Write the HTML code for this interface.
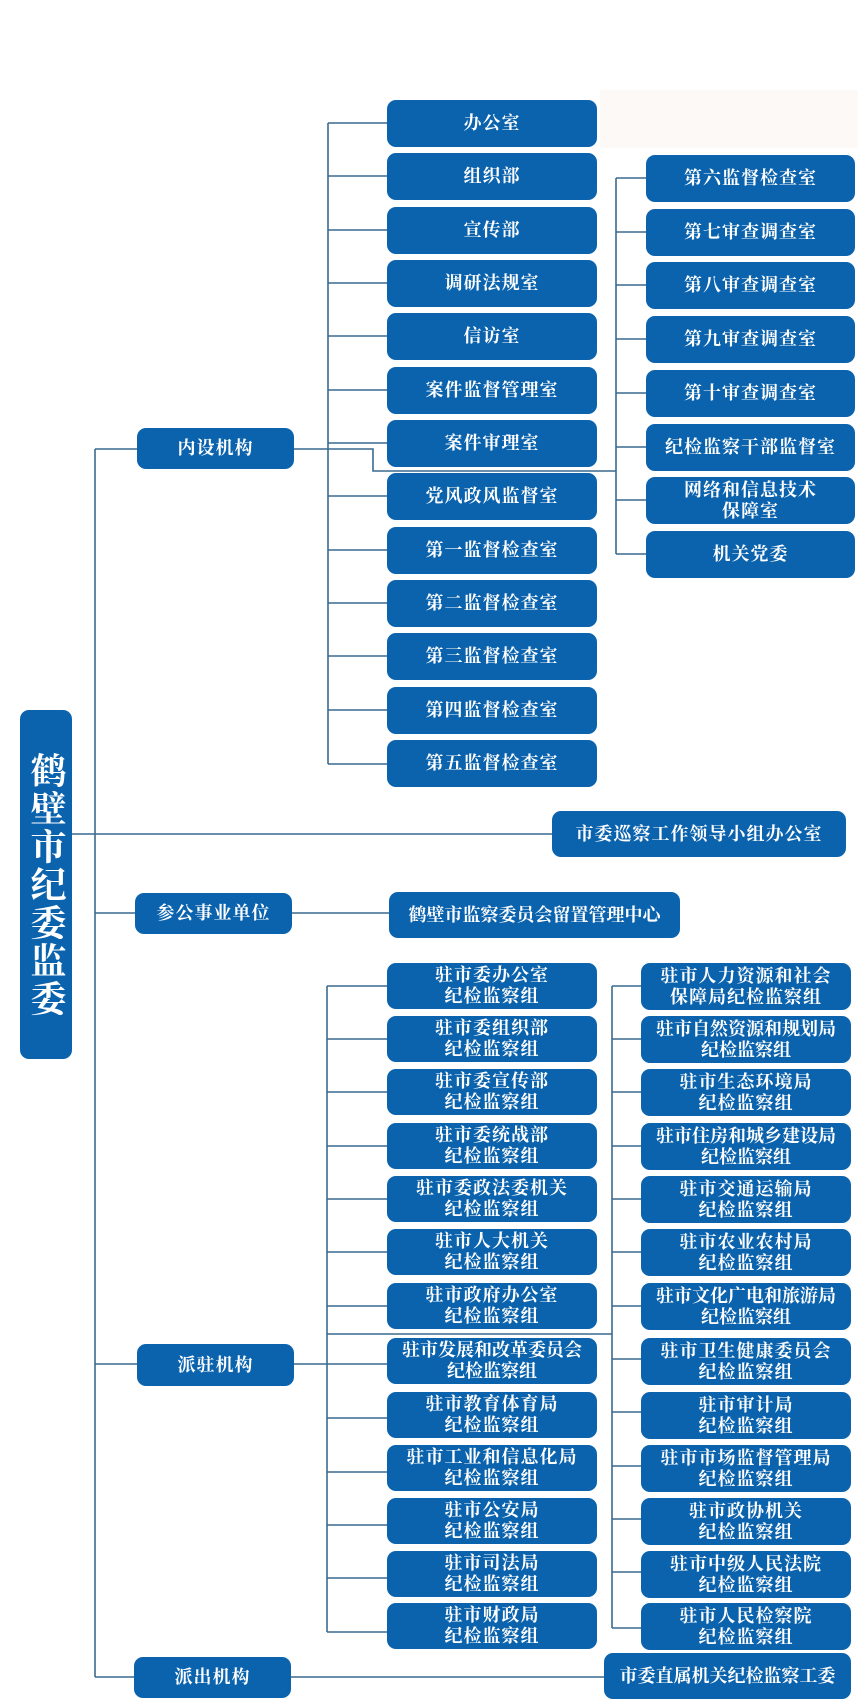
<!DOCTYPE html>
<html><head><meta charset="utf-8"><style>
body{margin:0;width:858px;height:1701px;background:#fff;position:relative;overflow:hidden}
.b{position:absolute;background:#0b63ae;color:#fff;border-radius:9px;display:flex;align-items:center;justify-content:center;text-align:center;font-family:"Liberation Serif","Noto Serif CJK SC",serif;font-weight:bold;font-size:18px;line-height:21px;letter-spacing:1px}
svg{position:absolute;left:0;top:0}
</style></head><body>
<div style="position:absolute;left:600px;top:90px;width:258px;height:58px;background:#fdf9f6"></div>
<svg width="858" height="1701"><g stroke="#3a6a8e" stroke-width="1.6" fill="none">
<path d="M95 449V1677"/>
<path d="M95 449H137M294 449H373V471H616"/>
<path d="M328 123V764"/>
<path d="M328 123H387M328 176H387M328 230H387M328 283H387M328 336H387M328 390H387M328 443H387M328 496H387M328 550H387M328 603H387M328 656H387M328 710H387M328 764H387"/>
<path d="M616 178V554"/>
<path d="M616 178H646M616 232H646M616 285H646M616 339H646M616 393H646M616 447H646M616 500H646M616 554H646"/>
<path d="M72 834H552"/>
<path d="M95 913H135M292 913H389"/>
<path d="M95 1364H137M294 1364H387"/>
<path d="M327 986V1632M327 1334H612"/>
<path d="M612 986V1628"/>
<path d="M327 986H387M327 1039H387M327 1092H387M327 1146H387M327 1199H387M327 1252H387M327 1306H387M327 1418H387M327 1472H387M327 1525H387M327 1578H387M327 1632H387"/>
<path d="M612 986H641M612 1039H641M612 1092H641M612 1146H641M612 1199H641M612 1252H641M612 1306H641M612 1359H641M612 1412H641M612 1466H641M612 1519H641M612 1572H641M612 1628H641"/>
<path d="M95 1677H134M291 1677H604"/>
</g></svg>

<div class="b" style="left:20px;top:710px;width:52px;height:349px;font-size:36px;line-height:38px;writing-mode:vertical-rl;letter-spacing:2px">鹤壁市纪委监委</div>

<div class="b" style="left:137px;top:428px;width:157px;height:41px">内设机构</div>
<div class="b" style="left:135px;top:893px;width:157px;height:41px">参公事业单位</div>
<div class="b" style="left:137px;top:1344px;width:157px;height:42px">派驻机构</div>
<div class="b" style="left:134px;top:1657px;width:157px;height:41px">派出机构</div>

<div class="b" style="left:387px;top:100px;width:210px;height:47px">办公室</div>
<div class="b" style="left:387px;top:153px;width:210px;height:47px">组织部</div>
<div class="b" style="left:387px;top:207px;width:210px;height:47px">宣传部</div>
<div class="b" style="left:387px;top:260px;width:210px;height:47px">调研法规室</div>
<div class="b" style="left:387px;top:313px;width:210px;height:47px">信访室</div>
<div class="b" style="left:387px;top:367px;width:210px;height:47px">案件监督管理室</div>
<div class="b" style="left:387px;top:420px;width:210px;height:47px">案件审理室</div>
<div class="b" style="left:387px;top:473px;width:210px;height:47px">党风政风监督室</div>
<div class="b" style="left:387px;top:527px;width:210px;height:47px">第一监督检查室</div>
<div class="b" style="left:387px;top:580px;width:210px;height:47px">第二监督检查室</div>
<div class="b" style="left:387px;top:633px;width:210px;height:47px">第三监督检查室</div>
<div class="b" style="left:387px;top:687px;width:210px;height:47px">第四监督检查室</div>
<div class="b" style="left:387px;top:740px;width:210px;height:47px">第五监督检查室</div>

<div class="b" style="left:646px;top:155px;width:209px;height:47px">第六监督检查室</div>
<div class="b" style="left:646px;top:209px;width:209px;height:47px">第七审查调查室</div>
<div class="b" style="left:646px;top:262px;width:209px;height:47px">第八审查调查室</div>
<div class="b" style="left:646px;top:316px;width:209px;height:47px">第九审查调查室</div>
<div class="b" style="left:646px;top:370px;width:209px;height:47px">第十审查调查室</div>
<div class="b" style="left:646px;top:424px;width:209px;height:47px">纪检监察干部监督室</div>
<div class="b" style="left:646px;top:477px;width:209px;height:47px">网络和信息技术<br>保障室</div>
<div class="b" style="left:646px;top:531px;width:209px;height:47px">机关党委</div>

<div class="b" style="left:552px;top:811px;width:294px;height:46px">市委巡察工作领导小组办公室</div>
<div class="b" style="left:389px;top:892px;width:291px;height:46px;letter-spacing:0">鹤壁市监察委员会留置管理中心</div>

<div class="b" style="left:387px;top:963px;width:210px;height:46px">驻市委办公室<br>纪检监察组</div>
<div class="b" style="left:387px;top:1016px;width:210px;height:46px">驻市委组织部<br>纪检监察组</div>
<div class="b" style="left:387px;top:1069px;width:210px;height:46px">驻市委宣传部<br>纪检监察组</div>
<div class="b" style="left:387px;top:1123px;width:210px;height:46px">驻市委统战部<br>纪检监察组</div>
<div class="b" style="left:387px;top:1176px;width:210px;height:46px">驻市委政法委机关<br>纪检监察组</div>
<div class="b" style="left:387px;top:1229px;width:210px;height:46px">驻市人大机关<br>纪检监察组</div>
<div class="b" style="left:387px;top:1283px;width:210px;height:46px">驻市政府办公室<br>纪检监察组</div>
<div class="b" style="left:387px;top:1338px;width:210px;height:46px;letter-spacing:0">驻市发展和改革委员会<br>纪检监察组</div>
<div class="b" style="left:387px;top:1392px;width:210px;height:46px">驻市教育体育局<br>纪检监察组</div>
<div class="b" style="left:387px;top:1445px;width:210px;height:46px">驻市工业和信息化局<br>纪检监察组</div>
<div class="b" style="left:387px;top:1498px;width:210px;height:46px">驻市公安局<br>纪检监察组</div>
<div class="b" style="left:387px;top:1551px;width:210px;height:46px">驻市司法局<br>纪检监察组</div>
<div class="b" style="left:387px;top:1603px;width:210px;height:46px">驻市财政局<br>纪检监察组</div>

<div class="b" style="left:641px;top:963px;width:210px;height:47px">驻市人力资源和社会<br>保障局纪检监察组</div>
<div class="b" style="left:641px;top:1016px;width:210px;height:47px;letter-spacing:0">驻市自然资源和规划局<br>纪检监察组</div>
<div class="b" style="left:641px;top:1069px;width:210px;height:47px">驻市生态环境局<br>纪检监察组</div>
<div class="b" style="left:641px;top:1123px;width:210px;height:47px;letter-spacing:0">驻市住房和城乡建设局<br>纪检监察组</div>
<div class="b" style="left:641px;top:1176px;width:210px;height:47px">驻市交通运输局<br>纪检监察组</div>
<div class="b" style="left:641px;top:1229px;width:210px;height:47px">驻市农业农村局<br>纪检监察组</div>
<div class="b" style="left:641px;top:1283px;width:210px;height:47px;letter-spacing:0">驻市文化广电和旅游局<br>纪检监察组</div>
<div class="b" style="left:641px;top:1338px;width:210px;height:47px">驻市卫生健康委员会<br>纪检监察组</div>
<div class="b" style="left:641px;top:1392px;width:210px;height:47px">驻市审计局<br>纪检监察组</div>
<div class="b" style="left:641px;top:1445px;width:210px;height:47px">驻市市场监督管理局<br>纪检监察组</div>
<div class="b" style="left:641px;top:1498px;width:210px;height:47px">驻市政协机关<br>纪检监察组</div>
<div class="b" style="left:641px;top:1551px;width:210px;height:47px">驻市中级人民法院<br>纪检监察组</div>
<div class="b" style="left:641px;top:1603px;width:210px;height:47px">驻市人民检察院<br>纪检监察组</div>

<div class="b" style="left:604px;top:1653px;width:247px;height:46px;letter-spacing:0">市委直属机关纪检监察工委</div>
</body></html>
